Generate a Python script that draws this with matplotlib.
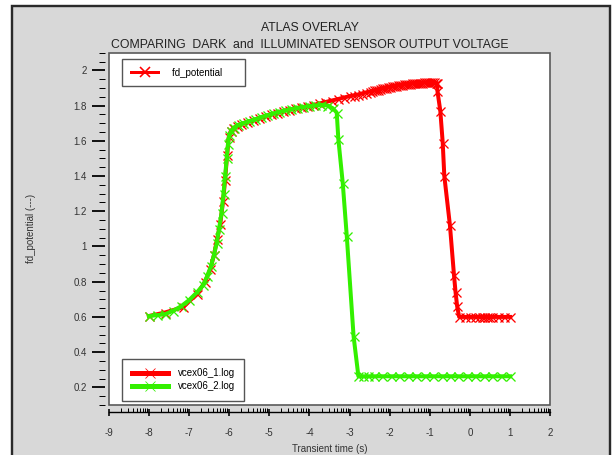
import matplotlib
matplotlib.use("Agg")
import matplotlib.pyplot as plt
import numpy as np
from matplotlib.lines import Line2D
from matplotlib.patches import Rectangle
from matplotlib.ticker import FixedLocator, MultipleLocator, FormatStrFormatter

plt.rcParams["font.family"] = ["Liberation Sans", "DejaVu Sans"]

# ---- data -------------------------------------------------------------
# vcex06_1.log : dark run
red_t = [-8.00, -7.60, -7.15, -6.80, -6.60, -6.47, -6.38, -6.30, -6.22, -6.15,
         -6.10, -6.05, -6.01, -5.96, -5.90, -5.80, -5.70, -5.55, -5.40, -5.25,
         -5.10, -4.95, -4.80, -4.65, -4.50, -4.35, -4.20, -4.05, -3.90, -3.75,
         -3.60, -3.45, -3.30, -3.15, -3.00, -2.90, -2.80, -2.70, -2.60, -2.50,
         -2.45, -2.40, -2.35, -2.30, -2.25, -2.20, -2.15, -2.10, -2.05, -2.00,
         -1.95, -1.90, -1.85, -1.80, -1.75, -1.70, -1.65, -1.60, -1.55, -1.50,
         -1.45, -1.40, -1.35, -1.30, -1.25, -1.20, -1.15, -1.10, -1.05, -1.00,
         -0.95, -0.90, -0.85, -0.82, -0.81, -0.74, -0.68, -0.64, -0.50, -0.40,
         -0.36, -0.32, -0.27, -0.12, 0.00, 0.12, 0.22, 0.30, 0.36, 0.42,
         0.48, 0.56, 0.70, 0.85, 1.00]
red_v = [0.605, 0.625, 0.655, 0.730, 0.800, 0.870, 0.950, 1.040, 1.130, 1.260,
         1.380, 1.520, 1.620, 1.655, 1.670, 1.685, 1.695, 1.707, 1.717, 1.728,
         1.740, 1.750, 1.760, 1.770, 1.777, 1.785, 1.790, 1.797, 1.803, 1.812,
         1.820, 1.828, 1.836, 1.845, 1.853, 1.857, 1.862, 1.868, 1.874, 1.879,
         1.882, 1.886, 1.888, 1.891, 1.894, 1.897, 1.899, 1.902, 1.904, 1.906,
         1.909, 1.911, 1.913, 1.915, 1.917, 1.919, 1.921, 1.922, 1.924, 1.925,
         1.926, 1.927, 1.928, 1.929, 1.930, 1.930, 1.931, 1.931, 1.931, 1.931,
         1.931, 1.931, 1.930, 1.928, 1.880, 1.770, 1.590, 1.400, 1.120, 0.840,
         0.740, 0.660, 0.600, 0.600, 0.600, 0.600, 0.600, 0.600, 0.600, 0.600,
         0.600, 0.600, 0.600, 0.600, 0.600]

# vcex06_2.log : illuminated run
green_t = [-8.00, -7.80, -7.60, -7.40, -7.20, -7.00, -6.80, -6.65, -6.55, -6.45,
           -6.38, -6.31, -6.25, -6.19, -6.14, -6.10, -6.06, -6.03, -6.00, -5.95,
           -5.88, -5.78, -5.65, -5.50, -5.35, -5.20, -5.05, -4.90, -4.75, -4.60,
           -4.45, -4.30, -4.15, -4.00, -3.85, -3.70, -3.55, -3.42, -3.32, -3.28,
           -3.17, -3.07, -2.90, -2.78, -2.66, -2.53, -2.38, -2.18, -1.97, -1.76,
           -1.55, -1.34, -1.13, -0.92, -0.71, -0.50, -0.29, -0.08, 0.13, 0.34,
           0.55, 0.76, 1.00]
green_v = [0.605, 0.610, 0.615, 0.635, 0.660, 0.695, 0.740, 0.780, 0.830, 0.890,
           0.950, 1.020, 1.100, 1.190, 1.300, 1.400, 1.500, 1.580, 1.630, 1.655,
           1.675, 1.690, 1.700, 1.712, 1.722, 1.735, 1.745, 1.755, 1.765, 1.772,
           1.780, 1.787, 1.792, 1.797, 1.801, 1.804, 1.800, 1.785, 1.760, 1.610,
           1.360, 1.060, 0.490, 0.263, 0.263, 0.263, 0.263, 0.263, 0.263, 0.263,
           0.263, 0.263, 0.263, 0.263, 0.263, 0.263, 0.263, 0.263, 0.263, 0.263,
           0.263, 0.263, 0.263]

x_ticks = [-9, -8, -7, -6, -5, -4, -3, -2, -1, 0, 1, 2]
y_ticks = [0.2, 0.4, 0.6, 0.8, 1.0, 1.2, 1.4, 1.6, 1.8, 2.0]

title_lines = ["ATLAS OVERLAY",
               "COMPARING  DARK  and  ILLUMINATED SENSOR OUTPUT VOLTAGE"]
series_names = ["vcex06_1.log", "vcex06_2.log"]
quantity = "fd_potential"

RED = "#ff0000"
GREEN = "#33f000"
PX = 72.0 / 100.0  # points per pixel at dpi 100

# ---- figure -------------------------------------------------------------
W, H = 616, 455
fig = plt.figure(figsize=(W / 100, H / 100), dpi=100, facecolor="white")

# grey panel with dark frame, kept behind the axes
fig.patches.append(Rectangle((12 / W, -0.05), (610 - 12) / W, 1.05 - 6 / H,
                             transform=fig.transFigure, facecolor="#d8d8d8",
                             edgecolor="#2a2a2a", linewidth=2.4 * PX,
                             zorder=-10))

ax = fig.add_axes([108.7 / W, 1 - 405 / H, (550.3 - 108.7) / W, 352.3 / H])
ax.set_facecolor("white")
ax.patch.set_edgecolor("#5a5a5a")
ax.patch.set_linewidth(1.2)

line_kw = dict(linewidth=4 * PX, marker="x", markersize=9 * PX,
               markeredgewidth=1.3 * PX)
ax.plot(red_t, red_v, color=RED, **line_kw)
ax.plot(green_t, green_v, color=GREEN, **line_kw)

ax.set_xlim(-9, 2)
ax.set_ylim(0.1, 2.1)

# axes decorations
for s in ("top", "right"):
    ax.spines[s].set_visible(False)
ax.spines["left"].set_position(("outward", 3.7 * PX))
ax.spines["left"].set_visible(False)
ax.spines["bottom"].set_position(("outward", 6.5 * PX))
ax.spines["bottom"].set_color("black")
ax.spines["bottom"].set_linewidth(1.0)

ax.set_xticks(x_ticks)
ax.set_xticklabels([str(t) for t in x_ticks])
ax.xaxis.set_minor_locator(FixedLocator(
    [m + np.log10(k) for m in x_ticks[:-1] for k in range(2, 10)]))
ax.set_yticks(y_ticks)
ax.yaxis.set_major_formatter(FormatStrFormatter("%g"))
ax.yaxis.set_minor_locator(MultipleLocator(0.05))

ax.tick_params(axis="x", which="major", direction="inout", length=7 * PX,
               width=1.6 * PX, color="black", pad=13 * PX,
               labelsize=7, labelcolor="#333333")
ax.tick_params(axis="x", which="minor", direction="in", length=4 * PX,
               width=1.0 * PX, color="black")
ax.tick_params(axis="y", which="major", direction="out", length=13 * PX,
               width=1.8 * PX, color="black", pad=5 * PX,
               labelsize=7, labelcolor="#333333")
ax.tick_params(axis="y", which="minor", direction="out", length=6 * PX,
               width=1.0 * PX, color="black")

ax.set_xlabel("Transient time (s)", fontsize=7, color="#333333", labelpad=4)
ax.yaxis.set_label_coords(-(108.7 - 36) / 441.6, (405 - 237) / 352.3)
ax.set_ylabel(quantity + " (---)", fontsize=7, color="#333333")

fig.text(310 / W, 1 - 28 / H, title_lines[0], ha="center", va="center",
         fontsize=8.8, color="#222222")
fig.text(310 / W, 1 - 45 / H, title_lines[1], ha="center", va="center",
         fontsize=8.8, color="#222222")

# legends
leg_kw = dict(frameon=True, fancybox=False, shadow=False, framealpha=1,
              edgecolor="#555555", fontsize=7, borderaxespad=0)
h_top = [Line2D([], [], color=RED, linewidth=3 * PX, marker="x",
                markersize=10 * PX, markeredgewidth=1.6 * PX)]
leg1 = ax.legend(h_top, [quantity + "     "], loc="upper left",
                 bbox_to_anchor=(13.6 / 441.6, 1 - 6.3 / 352.3),
                 handlelength=2.8, handletextpad=1.4, borderpad=0.9, **leg_kw)
leg1.get_frame().set_linewidth(1.0)
ax.add_artist(leg1)

h_bot = [Line2D([], [], color=c, linewidth=5 * PX, marker="x",
                markersize=10 * PX, markeredgewidth=0.8 * PX,
                markeredgecolor=c, alpha=1.0)
         for c in (RED, GREEN)]
leg2 = ax.legend(h_bot, series_names, loc="lower left",
                 bbox_to_anchor=(13.6 / 441.6, (405 - 400.7) / 352.3),
                 handlelength=3.75, handletextpad=1.0, borderpad=0.95,
                 labelspacing=0.35, **leg_kw)
leg2.get_frame().set_linewidth(1.0)

fig.savefig("out.png", dpi=100, facecolor="white")
